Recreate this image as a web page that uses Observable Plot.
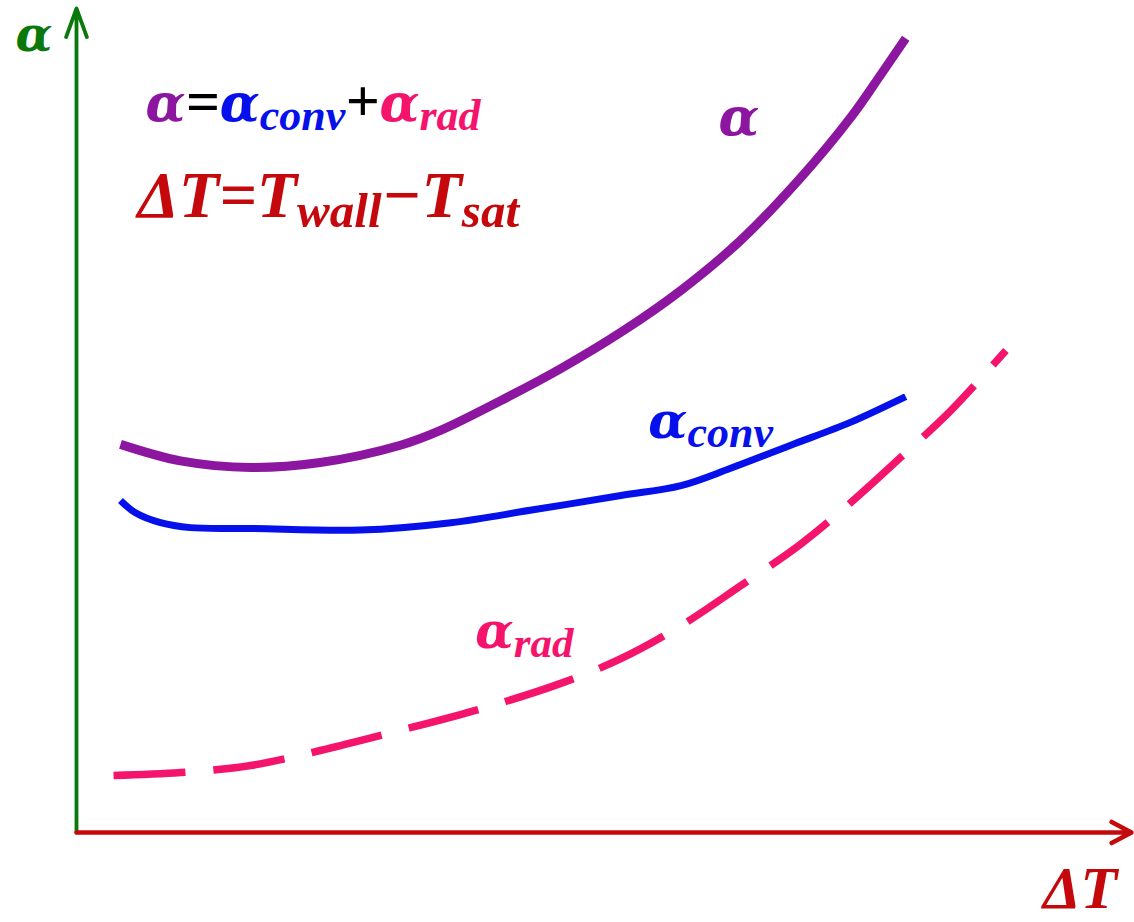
<!DOCTYPE html>
<html>
<head>
<meta charset="utf-8">
<script src="https://cdn.jsdelivr.net/npm/d3@7"></script>
<script src="https://cdn.jsdelivr.net/npm/@observablehq/plot@0.6"></script>
<style>
  html, body { margin: 0; padding: 0; background: #fff; }
  #chart svg { display: block; overflow: visible; }
</style>
</head>
<body>
<div id="chart"></div>
<script>
// Heat transfer coefficient vs. wall superheat ΔT (arbitrary units, 0–100).

// Total coefficient α
const alphaDT = [4.17, 9.86, 16.5, 23.1, 30.7, 34.5, 40.2, 45.9, 51.6, 57.3, 62.9, 68.6, 73.4, 76.2, 78.6];
const alphaVal = [47.1, 45.1, 44.3, 44.9, 47.0, 48.8, 52.4, 56.3, 60.7, 65.8, 71.8, 79.4, 86.8, 91.9, 96.4];

// Convective part α_conv
const convDT = [4.17, 5.59, 7.96, 10.8, 16.5, 26.9, 35.5, 43.0, 51.6, 57.3, 62.0, 67.7, 73.4, 78.6];
const convVal = [40.3, 38.8, 37.6, 37.0, 36.9, 36.7, 37.6, 39.1, 40.9, 42.1, 44.2, 47.0, 49.8, 52.9];

// Radiative part α_rad
const radDT = [3.51, 9.86, 16.5, 23.1, 30.7, 38.3, 45.9, 51.6, 57.3, 62.9, 68.6, 73.4, 78.1, 82.8, 88.1];
const radVal = [6.92, 7.28, 8.13, 9.95, 12.4, 15.0, 18.1, 21.1, 25.1, 29.9, 34.95, 40.05, 45.5, 51.1, 58.5];

const PURPLE = "#8c16a0";
const BLUE = "#0510ea";
const PINK = "#f5146c";
const GREEN = "#0b780b";
const RED = "#c4080c";
const BLACK = "#000";

const toRows = (xs, ys) => xs.map((x, i) => ({dT: x, a: ys[i]}));
const alphaRows = toRows(alphaDT, alphaVal);
const convRows = toRows(convDT, convVal);
const radRows = toRows(radDT, radVal);

// Annotations: each is a sequence of text runs; "sub" runs are subscripts,
// "greek" runs use a heavier serif for the α glyph.
const labels = [
  {x: -5.78, y: 94.9, size: 56, runs: [{t: "α", c: GREEN, greek: true}]},
  {x: 6.54, y: 86.4, size: 60, runs: [
    {t: "α", c: PURPLE, greek: true}, {t: "=", c: BLACK}, {t: "α", c: BLUE, greek: true}, {t: "conv", c: BLUE, sub: true},
    {t: "+", c: BLACK}, {t: "α", c: PINK, greek: true}, {t: "rad", c: PINK, sub: true}]},
  {x: 5.78, y: 74.7, size: 66, runs: [
    {t: "ΔT=T", c: RED}, {t: "wall", c: RED, sub: true}, {t: "−T", c: RED}, {t: "sat", c: RED, sub: true}]},
  {x: 60.85, y: 84.7, size: 62, runs: [{t: "α", c: PURPLE, greek: true}]},
  {x: 54.2, y: 47.9, size: 59, runs: [{t: "α", c: BLUE, greek: true}, {t: "conv", c: BLUE, sub: true}]},
  {x: 37.8, y: 22.45, size: 58, runs: [{t: "α", c: PINK, greek: true}, {t: "rad", c: PINK, sub: true}]},
  {x: 91.6, y: -9.2, size: 60, runs: [{t: "ΔT", c: RED}]}
];

const axisY = [{x1: 0, y1: 0, x2: 0, y2: 100}];
const axisX = [{x1: 0, y1: 0, x2: 100, y2: 0}];

const SERIF = "'Liberation Serif', 'Times New Roman', serif";
const GREEK = "'DejaVu Serif', serif";

const chart = Plot.plot({
  width: 1134,
  height: 922,
  marginLeft: 76,
  marginRight: 3,
  marginTop: 8,
  marginBottom: 90,
  x: {domain: [0, 100], axis: null},
  y: {domain: [0, 100], axis: null},
  style: {background: "#fff", overflow: "visible"},
  marks: [
    Plot.arrow(axisY, {x1: "x1", y1: "y1", x2: "x2", y2: "y2", stroke: GREEN, strokeWidth: 3.8,
      headLength: 12, headAngle: 40}),
    Plot.arrow(axisX, {x1: "x1", y1: "y1", x2: "x2", y2: "y2", stroke: RED, strokeWidth: 4.5,
      headLength: 7.5, headAngle: 56}),
    Plot.line(radRows, {x: "dT", y: "a", stroke: PINK, strokeWidth: 7.5, curve: "catmull-rom",
      strokeDasharray: "72 28", strokeLinecap: "butt"}),
    Plot.line(convRows, {x: "dT", y: "a", stroke: BLUE, strokeWidth: 7, curve: "catmull-rom", strokeLinecap: "butt"}),
    Plot.line(alphaRows, {x: "dT", y: "a", stroke: PURPLE, strokeWidth: 9, curve: "catmull-rom", strokeLinecap: "butt"}),
    Plot.text(labels, {x: "x", y: "y", text: (d) => d.runs.map((r) => r.t).join(""), textAnchor: "start",
      lineAnchor: "bottom", fontSize: (d) => d.size, className: "rich",
      fontFamily: SERIF, fontWeight: "bold", fontStyle: "italic"})
  ]
});

// Rebuild each annotation with coloured runs and subscripts.
d3.select(chart).selectAll("g.rich text").each(function (i) {
  const d = labels[i];
  const node = d3.select(this).text(null).attr("fill", null);
  const subSize = Math.round(d.size * 0.74);
  const shift = Math.round(d.size * 0.15);
  let lowered = false;
  for (const r of d.runs) {
    const span = node.append("tspan").attr("fill", r.c).text(r.t);
    if (r.sub && !lowered) { span.attr("dy", shift); lowered = true; }
    else if (!r.sub && lowered) { span.attr("dy", -shift); lowered = false; }
    if (r.sub) span.attr("font-size", subSize);
    if (r.greek) span.attr("font-family", GREEK).attr("font-size", Math.round(d.size * 0.86));
  }
});

document.getElementById("chart").append(chart);
</script>
</body>
</html>
